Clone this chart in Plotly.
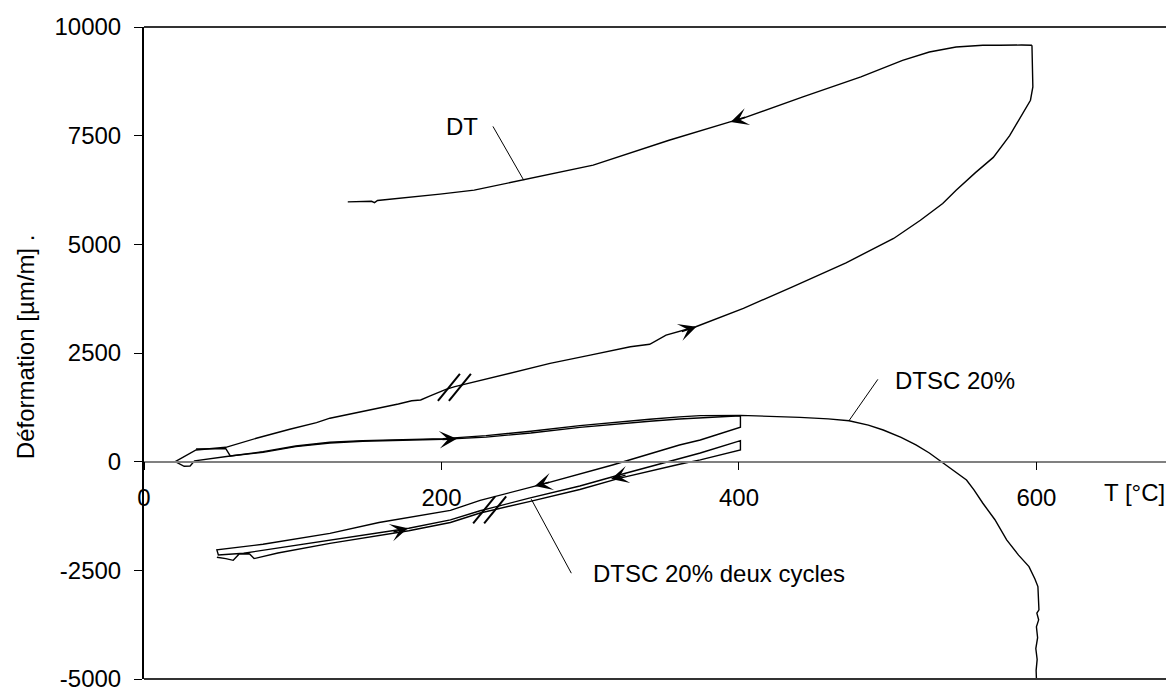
import plotly.graph_objects as go

# ---------------- data ----------------
dt_heat_T = [21, 35, 55, 75.5, 98, 116, 125, 147, 171, 180, 186, 192, 203, 209, 237, 273, 300, 327, 340, 351,
             371, 394, 403, 436, 472, 504, 522, 537, 546, 559, 571, 582, 591, 596, 597.6, 597, 597]
dt_heat_D = [0, 269, 330, 538, 745, 897, 1000, 1149, 1326, 1400, 1420, 1510, 1664, 1725, 1955, 2262, 2450, 2644, 2700, 2913,
             3104, 3411, 3526, 4023, 4575, 5135, 5553, 5940, 6246, 6650, 7000, 7500, 8009, 8315, 8621, 9234, 9579]

dt_cool_T = [597, 590, 575, 564, 546, 528, 510, 482, 443, 402, 394, 353, 302, 255, 222, 199, 171, 157, 155, 153, 137]
dt_cool_D = [9579, 9585, 9580, 9579, 9540, 9425, 9234, 8851, 8391, 7894, 7816, 7395, 6821, 6476, 6246, 6154, 6055,
             6010, 5960, 5990, 5977]

dtsc_T = [21, 27, 31, 34, 58, 80, 102, 125, 147, 170, 201, 230, 260, 293, 320, 340, 360, 374, 401, 420, 441, 460,
          474, 487, 497, 509, 519, 528, 537, 545, 553, 558, 564, 572, 580, 588, 595, 599, 601, 601.7, 600.3, 601.5,
          600, 600.8, 599.6, 600.5, 599.8, 600]
dtsc_D = [0, -106, -99, 20, 131, 230, 361, 446, 483, 500, 530, 600, 700, 830, 920, 975, 1030, 1060, 1065, 1045, 1020,
          985, 942, 840, 729, 560, 384, 200, -23, -220, -421, -650, -957, -1330, -1800, -2150, -2414, -2700, -2874,
          -3409, -3485, -3639, -3800, -4050, -4300, -4550, -4800, -5000]

deux_T = [35, 55, 58, 80, 102, 125, 147, 170, 201, 230, 260, 293, 320, 340, 360, 374, 401,
          401, 374, 360, 315, 270, 226, 206, 158, 125, 80, 49,
          50, 67, 125, 178, 206, 226, 259, 293, 320, 360, 374, 401,
          401, 374, 360, 320, 293, 259, 226, 206, 178, 125, 90, 74, 71, 64, 60, 55, 49]
deux_D = [290, 300, 131, 215, 345, 430, 470, 490, 515, 565, 660, 790, 880, 930, 980, 1000, 1055,
          791, 499, 384, -76, -500, -890, -1120, -1400, -1650, -1900, -2030,
          -2145, -2106, -1800, -1531, -1340, -1130, -840, -560, -300, 80, 200, 483,
          269, 40, -60, -380, -640, -920, -1180, -1400, -1590, -1880, -2100, -2230, -2125, -2125, -2270, -2230, -2200]

x_ticks = [0, 200, 400, 600]
y_ticks = [-5000, -2500, 0, 2500, 5000, 7500, 10000]

# arrow tips on the curves (T, D) and direction (+1 = pointing to higher T)
arrow_T = [371.4, 394.4, 210.4, 262.7, 314.0, 177.5]
arrow_D = [3104, 7816, 529, -560, -400, -1531]
arrow_way = [1, -1, 1, -1, -1, 1]
arrow_slope = [0.33, 0.32, 0.06, 0.26, 0.27, 0.26]

# break marks "//" centres
break_T = [208.7, 232.4]
break_D = [1708, -1110]

# labels and leader lines
label_text = ["DT", "DTSC 20%", "DTSC 20% deux cycles"]
label_T = [213.9, 545.4, 386.4]
label_D = [7701, 1867, -2582]
leader_T0 = [234.6, 493.4, 287.3]
leader_D0 = [7713, 1894, -2566]
leader_T1 = [255.3, 474.0, 260.4]
leader_D1 = [6476, 943, -864]

X_RANGE = [0, 692.5]
Y_RANGE = [-5000, 10000]

FONT = "Liberation Sans, Arial, sans-serif"

fig = go.Figure()
line_style = dict(color="black", width=1.4)
for T, D in [(dt_heat_T, dt_heat_D), (dt_cool_T, dt_cool_D), (dtsc_T, dtsc_D), (deux_T, deux_D)]:
    fig.add_trace(go.Scatter(x=T, y=D, mode="lines", line=line_style, showlegend=False, hoverinfo="skip"))

annotations = []
# arrowheads
for t, d, w, s in zip(arrow_T, arrow_D, arrow_way, arrow_slope):
    L = 16
    ax = -w * L
    ay = w * L * s
    annotations.append(dict(x=t, y=d, xref="x", yref="y", ax=ax, ay=ay, text="", showarrow=True,
                            arrowhead=3, arrowsize=2.1, arrowwidth=1.4, arrowcolor="black", standoff=0))

# labels
for txt, t, d in zip(label_text, label_T, label_D):
    annotations.append(dict(x=t, y=d, xref="x", yref="y", text=txt, showarrow=False,
                            font=dict(family=FONT, size=24, color="black"), xanchor="center", yanchor="middle"))

annotations.append(dict(x=666, y=-720, xref="x", yref="y", text="T [°C]", showarrow=False,
                        font=dict(family=FONT, size=24, color="black"), xanchor="center", yanchor="middle"))
annotations.append(dict(x=-0.1155, y=0.509, xref="paper", yref="paper", text="Déformation [µm/m] .",
                        textangle=-90, showarrow=False, font=dict(family=FONT, size=24, color="black"),
                        xanchor="center", yanchor="middle"))

shapes = []
for t0, d0, t1, d1 in zip(leader_T0, leader_D0, leader_T1, leader_D1):
    shapes.append(dict(type="line", xref="x", yref="y", x0=t0, y0=d0, x1=t1, y1=d1,
                       line=dict(color="black", width=1)))
for t, d in zip(break_T, break_D):
    for off in (-5.5, 5.5):
        shapes.append(dict(type="line", xref="x", yref="y", xsizemode="pixel", ysizemode="pixel",
                           xanchor=t, yanchor=d, x0=off - 11, y0=-13.5, x1=off + 11, y1=13.5,
                           line=dict(color="black", width=2)))
# frame top and bottom
for yy in (0, 1):
    shapes.append(dict(type="line", xref="paper", yref="paper", x0=0, x1=1, y0=yy, y1=yy,
                       line=dict(color="#333333", width=2)))

# the page body has an 8px margin: the figure is sized to end at the window edge
fig.update_layout(
    width=1166, height=680,
    margin=dict(l=136, r=0, t=19, b=9, autoexpand=False),
    paper_bgcolor="white", plot_bgcolor="white",
    font=dict(family=FONT, size=24, color="black"),
    xaxis=dict(range=X_RANGE, tickvals=x_ticks, ticktext=[str(v) for v in x_ticks],
               showgrid=False, zeroline=False, showline=True, linecolor="#808080", linewidth=1.5,
               ticks="outside", ticklen=8, tickwidth=1, tickcolor="black", automargin=False,
               anchor="free", position=(0 - Y_RANGE[0]) / (Y_RANGE[1] - Y_RANGE[0]),
               ticklabelstandoff=7, tickfont=dict(family=FONT, size=24, color="black")),
    yaxis=dict(range=Y_RANGE, tickvals=y_ticks, ticktext=[str(v) for v in y_ticks],
               showgrid=False, zeroline=False, automargin=False,
               showline=True, linecolor="black", linewidth=2,
               ticks="outside", ticklen=8, tickwidth=1, tickcolor="black",
               ticklabeloverflow="allow",
               ticklabelstandoff=8, tickfont=dict(family=FONT, size=24, color="black")),
    annotations=annotations,
    shapes=shapes,
)

fig.write_html("out.html")
